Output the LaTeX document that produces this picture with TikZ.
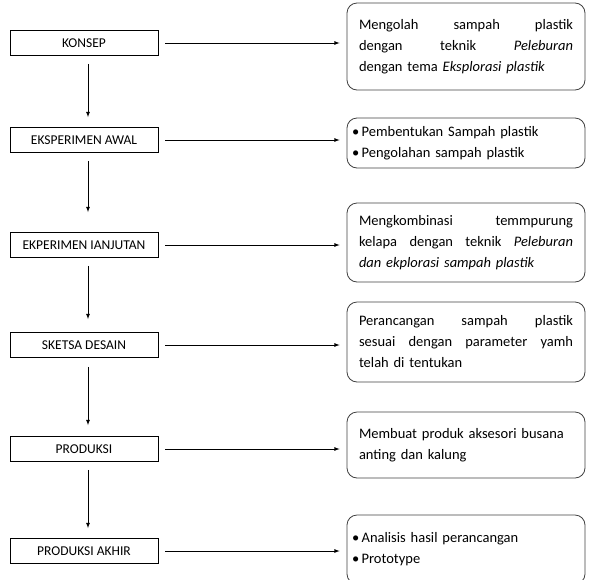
\documentclass[tikz,border=0pt]{standalone}
\usepackage{fontspec}
\setmainfont{Carlito}
\usetikzlibrary{arrows}

\tikzset{
    tahap/.style = {draw, line width = 0.8pt, minimum width = 148pt, minimum height = 25pt,
        inner sep = 0pt, font = \fontsize{13.5}{15}\selectfont},
    ket/.style = {draw = black!75, line width = 0.8pt, rounded corners = 10pt,
        minimum width = 238pt, text width = 214pt, inner xsep = 0pt, align = left,
        font = \fontsize{14.5}{21}\selectfont},
    panah/.style = {-latex, line width = 0.8pt}
}
\newcommand{\penuh}[1]{\makebox[214pt][l]{#1}}
\newcommand{\butir}{\hspace*{-7pt}\textbullet\,}

\begin{document}
\begin{tikzpicture}[x = 1pt, y = 1pt]
    \clip (0, 0) rectangle (589, -579);

    \node [tahap] (k1) at (84, -43) {KONSEP};
    \node [tahap] (k2) at (84, -140) {EKSPERIMEN AWAL};
    \node [tahap] (k3) at (84, -245) {EKPERIMEN IANJUTAN};
    \node [tahap] (k4) at (84, -345) {SKETSA DESAIN};
    \node [tahap] (k5) at (84, -449) {PRODUKSI};
    \node [tahap] (k6) at (84, -551) {PRODUKSI AKHIR};

    \node [ket, minimum height = 87pt] (d1) at (466, -46.5)
    {\penuh{Mengolah\hfill sampah\hfill plastik}\\
    \penuh{dengan\hfill teknik\hfill \textit{Peleburan}}\\
    dengan tema \textit{Eksplorasi plastik}};
    \node [ket, minimum height = 50pt] (d2) at (466, -143)
    {\butir Pembentukan Sampah plastik\\ \butir Pengolahan sampah plastik};
    \node [ket, minimum height = 79pt] (d3) at (466, -242.5)
    {\penuh{Mengkombinasi\hfill temmpurung}\\
    \penuh{kelapa\hfill dengan\hfill teknik\hfill \textit{Peleburan}}\\
    \textit{dan ekplorasi sampah plastik}};
    \node [ket, minimum height = 80pt] (d4) at (466, -342)
    {\penuh{Perancangan\hfill sampah\hfill plastik}\\
    \penuh{sesuai\hfill dengan\hfill parameter\hfill yamh}\\
    telah di tentukan};
    \node [ket, minimum height = 66pt] (d5) at (466, -445)
    {\mbox{Membuat produk aksesori busana}\\ anting dan kalung\\[4pt]};
    \node [ket, minimum height = 69pt] (d6) at (466, -549.5)
    {\butir Analisis hasil perancangan\\ \butir Prototype};

    % alur tahap
    \draw [panah] ([xshift = 4pt, yshift = -8pt]k1.south) -- ([xshift = 4pt, yshift = 10pt]k2.north);
    \draw [panah] ([xshift = 4pt, yshift = -8pt]k2.south) -- ([xshift = 4pt, yshift = 20pt]k3.north);
    \draw [panah] ([xshift = 4pt, yshift = -8pt]k3.south) -- ([xshift = 4pt, yshift = 13pt]k4.north);
    \draw [panah] ([xshift = 4pt, yshift = -9pt]k4.south) -- ([xshift = 4pt, yshift = 11pt]k5.north);
    \draw [panah] ([xshift = 4pt, yshift = -8pt]k5.south) -- ([xshift = 4pt, yshift = 10pt]k6.north);

    % ke keterangan
    \coordinate (u1) at (k1.east -| d1.west);
    \coordinate (u2) at (k2.east -| d2.west);
    \coordinate (u3) at (k3.east -| d3.west);
    \coordinate (u4) at (k4.east -| d4.west);
    \coordinate (u5) at (k5.east -| d5.west);
    \coordinate (u6) at (k6.east -| d6.west);
    \draw [panah] ([xshift = 7pt]k1.east) -- ([xshift = -7pt]u1);
    \draw [panah] ([xshift = 7pt]k2.east) -- ([xshift = -7pt]u2);
    \draw [panah] ([xshift = 7pt]k3.east) -- ([xshift = -7pt]u3);
    \draw [panah] ([xshift = 7pt]k4.east) -- ([xshift = -7pt]u4);
    \draw [panah] ([xshift = 7pt]k5.east) -- ([xshift = -7pt]u5);
    \draw [panah] ([xshift = 7pt]k6.east) -- ([xshift = -7pt]u6);
\end{tikzpicture}
\end{document}
